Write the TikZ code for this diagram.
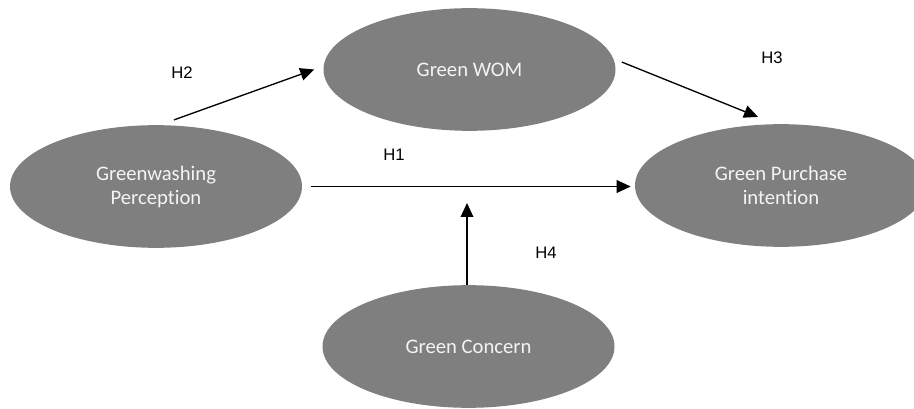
\documentclass[tikz,border=0pt]{standalone}
\usepackage{fontspec}
\setmainfont{Carlito}[Ligatures={NoCommon}, RawFeature={-liga}]
\newfontfamily\labfont{Liberation Sans}
\usetikzlibrary{shapes.geometric,arrows.meta}
\definecolor{ellfill}{HTML}{7F7F7F}
\definecolor{elltext}{HTML}{F4F4F4}
\tikzset{
  construct/.style={ellipse, fill=ellfill, draw=none, inner sep=0pt,
    minimum width=219pt, minimum height=92pt, text=elltext,
    font=\fontsize{15.5}{18}\selectfont, align=center},
  hlabel/.style={font=\labfont\fontsize{12.5}{14}\selectfont, text=black, inner sep=0pt},
  arr/.style={draw=black, line width=1pt, -{Triangle[length=10.5pt,width=9.5pt]}}
}
\begin{document}
\begin{tikzpicture}[x=0.75pt,y=-0.75pt]
\useasboundingbox (0,0) rectangle (914,409);
\clip (0,0) rectangle (914,409);
\node[construct] (gw)  at (156,186.5) {Greenwashing\\Perception};
\node[construct] (wom) at (469.5,69.5) {Green WOM};
\node[construct] (gpi) at (781,185.5) {Green Purchase\\intention};
\node[construct] (gc)  at (468.5,346.5) {Green Concern};
\coordinate (h4end) at (467,203);
% H1
\draw[arr] ([xshift=6.75pt]gw.east) -- ([xshift=-3pt]gw.east -| gpi.west);
% H2
\draw[arr] ([xshift=13.5pt,yshift=3.75pt]gw.north) -- ([xshift=-6.75pt]wom.west);
% H3
\draw[arr] ([xshift=4.5pt,yshift=5.6pt]wom.east) -- ([xshift=-17.25pt,yshift=5.25pt]gpi.north);
% H4
\draw[arr] (gc.north -| h4end) -- (h4end);
\node[hlabel] (lh1) at (394,155) {H1};
\node[hlabel] (lh2) at (182,73) {H2};
\node[hlabel] (lh3) at (772,58) {H3};
\node[hlabel] (lh4) at (546,253) {H4};
\end{tikzpicture}
\end{document}
